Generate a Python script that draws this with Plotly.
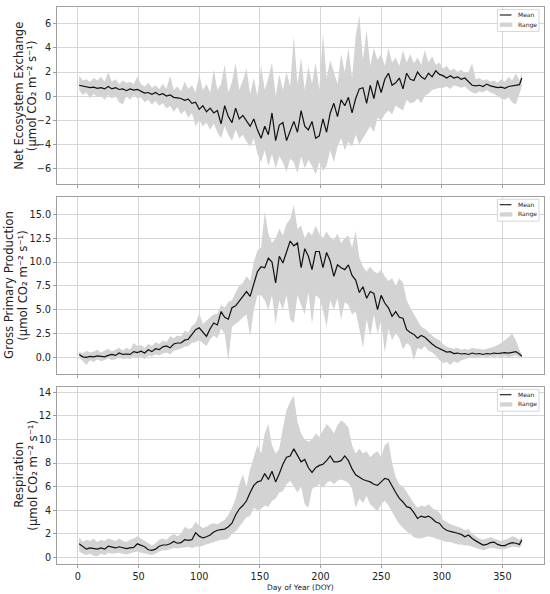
import plotly.graph_objects as go

# Day of year sample positions
DOY = list(range(1, 365, 3)) + [366]

# Net Ecosystem Exchange
NEE_MEAN = [
    0.9, 0.85, 0.8, 0.7, 0.75, 0.65, 0.7, 0.6, 0.8, 0.6,
    0.7, 0.55, 0.6, 0.45, 0.6, 0.5, 0.55, 0.4, 0.25, 0.3,
    0.15, 0.3, 0.1, 0.2, 0.0, 0.1, -0.1, -0.15, -0.2, -0.35,
    -0.25, -0.6, -0.5, -1.1, -0.8, -1.3, -1.0, -1.4, -1.2, -2.3,
    -0.8, -1.7, -2.2, -1.0, -1.9, -1.6, -2.0, -2.5, -1.9, -2.8,
    -3.5, -2.5, -3.2, -1.4, -3.7, -2.4, -2.2, -3.7, -2.9, -2.1,
    -3.0, -1.2, -2.5, -2.8, -2.1, -3.5, -3.3, -1.9, -3.0, -1.4,
    -0.6, -1.7, -0.3, -0.8, -0.1, -1.4, -0.2, 0.6, 0.7, -0.6,
    0.9, -0.2, 1.3, 0.3, 1.4, 1.9, 0.9, 1.1, 1.5, 0.6,
    1.9, 1.4, 1.3, 2.0, 1.6, 1.4, 1.9, 1.6, 2.1, 1.8,
    1.7, 1.5, 1.7, 1.5, 1.6, 1.4, 1.5, 1.2, 0.9, 0.85,
    0.9, 0.8, 1.0, 0.85, 0.8, 0.7, 0.75, 0.65, 0.8, 0.85,
    0.9, 0.95, 1.5,
]
NEE_HIGH = [
    1.7, 1.3, 1.4, 1.2, 1.5, 1.3, 1.6, 1.2, 2.0, 1.2,
    1.4, 1.0, 1.3, 1.1, 1.2, 1.0, 1.6, 1.0, 0.8, 1.1,
    0.7, 0.9, 0.6, 1.0, 0.6, 1.7, 0.5, 0.8, 0.4, 1.2,
    0.6, 0.9, 0.3, 1.8, 0.5, 1.0, 0.3, 2.2, 0.5, 1.0,
    2.6, 0.3, 1.2, 2.8, 0.5, 1.3, 2.3, 0.2, 1.5, 0.0,
    2.5, 0.5, 1.5, 2.8, 0.0, 1.8, 0.5, 2.0, 0.8, 5.0,
    1.0, 3.2, 0.5, 2.5, 1.0, 2.8, 0.5, 5.2, 1.5, 3.0,
    2.0, 1.0, 3.5, 2.0, 4.0, 1.5, 5.0, 6.7, 3.0, 5.5,
    2.5, 4.0, 3.0, 3.5, 2.5, 4.0, 2.8, 3.2, 2.5, 3.8,
    2.8, 3.5, 2.7, 3.2, 2.6, 3.8, 2.8, 3.3, 2.6, 2.8,
    2.3, 2.5, 2.1, 2.3, 2.0, 2.2, 1.9, 2.0, 2.7, 1.4,
    1.5, 1.3, 1.4, 1.2, 1.3, 1.1, 1.4, 1.2, 1.6, 1.3,
    1.9, 1.3, 2.0,
]
NEE_LOW = [
    0.5, 0.1, 0.3, -0.2, 0.2, -0.1, 0.0, -0.3, 0.1, -0.2,
    0.0, -0.5, -0.7, 0.0, -0.3, 0.1, -0.2, -0.1, -0.5, -0.3,
    -0.7, -0.4, -0.8, -0.6, -1.0, -0.8, -1.3, -0.9, -1.5, -1.2,
    -1.8, -1.4, -2.5, -2.0, -2.5, -2.2, -2.8, -2.3, -3.0, -3.5,
    -2.5, -3.2, -3.7, -2.8, -3.5, -3.2, -3.8, -4.2, -3.5, -4.8,
    -5.5, -4.5, -5.8, -4.8, -6.0, -5.0, -5.5, -6.3, -5.2, -5.5,
    -6.4, -5.0, -6.0, -5.3, -5.8, -6.5, -5.5, -6.2, -5.8, -4.5,
    -5.5, -4.2, -3.5, -4.5, -3.8, -4.2, -3.2, -4.0, -3.5, -3.0,
    -2.5, -3.0, -1.8, -2.0, -1.5, -1.2, -1.5, -0.8, -1.0, -1.2,
    -0.3, -0.6, -0.5, -0.2, -0.6, 0.0, 0.2, 0.5, 0.6, 0.7,
    0.7, 0.8, 0.6, 0.9, 0.8, 0.7, 0.8, 0.5, 0.3, 0.2,
    0.4, 0.3, 0.5, 0.3, 0.2, 0.0, -0.2, -0.3, -0.1, -0.5,
    -0.7, 0.2, 0.8,
]

# Gross Primary Production
GPP_MEAN = [
    0.3, 0.05, 0.0, 0.1, 0.05, 0.15, 0.1, 0.05, 0.2, 0.3,
    0.2, 0.45, 0.3, 0.35, 0.3, 0.6, 0.5, 0.65, 0.45, 0.8,
    0.6, 0.9, 0.8, 1.1, 1.2, 1.0, 1.4, 1.5, 1.5, 1.8,
    1.9, 2.4, 2.9, 3.1, 2.7, 2.2, 3.0, 3.6, 3.4, 4.8,
    4.2, 4.0, 5.2, 5.4, 5.9, 6.4, 6.9, 6.4, 7.6, 9.0,
    9.5, 9.4, 10.4, 10.0, 7.8, 10.6, 9.9, 11.0, 12.2, 11.7,
    12.0, 9.4, 11.4, 10.6, 9.2, 11.1, 11.1, 9.4, 11.0, 10.1,
    8.5, 9.7, 9.4, 9.2, 9.7, 8.6, 8.1, 6.8, 7.4, 6.2,
    6.9, 6.7, 5.0, 6.5, 5.7, 5.2, 4.3, 4.8, 4.2, 4.1,
    2.9, 2.6, 2.4, 2.0, 2.3, 2.1, 1.7, 1.4, 1.1, 0.9,
    0.75, 0.55, 0.6, 0.4, 0.45, 0.35, 0.4, 0.3, 0.45, 0.35,
    0.4, 0.3, 0.4, 0.35, 0.45, 0.4, 0.45, 0.5, 0.45, 0.5,
    0.6, 0.35, 0.1,
]
GPP_HIGH = [
    0.6, 0.4, 0.7, 0.5, 0.6, 0.8, 0.5, 0.7, 0.9, 0.6,
    0.8, 1.0, 0.7, 1.0, 0.8, 1.5, 1.2, 1.3, 1.0, 1.4,
    1.2, 1.6, 1.4, 1.8, 1.6, 2.2, 2.0, 2.3, 2.2, 2.8,
    2.6, 3.3, 3.6, 4.6, 3.5, 3.8, 4.2, 4.5, 4.6, 5.5,
    5.2, 5.8, 6.0, 6.8, 7.5, 7.8, 8.5, 8.0, 10.0, 11.2,
    11.5, 15.3, 13.0, 12.0, 12.5, 13.5, 12.8, 14.0, 14.5, 16.0,
    13.5, 13.8, 12.5, 13.2, 12.8, 13.8, 13.0, 12.5, 13.2, 12.6,
    12.3, 13.0, 12.0, 12.5, 12.8, 11.5, 13.3, 10.5, 9.5, 9.0,
    9.5, 9.0, 8.8, 9.2, 8.5, 8.0, 8.3, 7.5, 8.3, 7.8,
    6.0, 5.2, 4.5, 3.8, 3.2, 3.0, 2.6, 2.3, 2.0, 1.8,
    1.4, 1.1, 1.0, 0.9, 1.0, 0.8, 0.9, 0.8, 1.0, 0.9,
    0.9, 0.8, 0.9, 1.0, 1.1, 1.3, 1.5, 1.8, 2.1, 2.5,
    1.8, 0.8, 0.3,
]
GPP_LOW = [
    0.0, -0.4, -0.8, -0.3, -0.5, -0.2, -0.4, -0.3, -0.1, -0.3,
    -0.2, 0.0, -0.2, -0.1, -0.2, 0.1, -0.1, 0.1, -0.2, 0.2,
    0.1, 0.3, 0.2, 0.4, 0.5, 0.3, 0.7, 0.8, 0.9, 1.1,
    1.2, 1.5, 1.6, 1.8, 1.5, 1.2, 1.9, 2.3, 2.0, 3.0,
    2.5, -0.3, 3.2, 3.5, 3.8, 4.2, 4.5, 2.2, 5.0, 6.5,
    6.5, 6.0, 5.0, 6.5, 3.5, 6.0, 5.0, 6.5, 4.0, 3.6,
    6.5, 5.5, 4.5, 6.8, 3.5, 6.5, 6.2, 5.0, 3.2, 6.0,
    5.0, 6.2, 4.0, 5.8, 5.5, 4.5, 4.8, 3.0, 1.0, 4.0,
    2.2, 4.5, 2.5, 3.8, 0.5, 3.0, 1.8, 2.5, 2.0, 0.8,
    1.5, 1.2, -0.3, 1.0, 0.8, 1.2, 0.7, 0.5, 0.2, -0.3,
    -0.6, -0.5, -0.8, -0.4, -0.6, -0.3, -0.2, -0.1, 0.0, -0.1,
    0.0, 0.1, 0.0, 0.1, 0.0, 0.1, 0.0, 0.1, 0.0, 0.1,
    0.2, 0.0, 0.0,
]

# Respiration
RECO_MEAN = [
    1.15, 0.95, 0.7, 0.8, 0.75, 0.7, 0.8, 0.7, 0.95, 0.85,
    0.8, 0.9, 0.8, 0.75, 0.8, 0.85, 1.15, 1.05, 0.9, 0.65,
    0.6, 0.7, 0.95, 1.05, 1.05, 1.15, 1.35, 1.2, 1.25, 1.5,
    1.45, 1.5, 2.1, 1.8, 1.65, 1.75, 1.9, 2.15, 2.3, 2.35,
    2.4, 2.6, 2.9, 3.6, 4.1, 4.4, 4.8, 5.5, 6.1, 6.4,
    6.5, 7.1, 6.6, 7.3, 6.4, 7.1, 7.9, 8.5, 8.6, 9.2,
    8.6, 8.1, 8.3, 7.6, 7.2, 7.6, 7.8, 7.9, 8.2, 8.6,
    8.1, 8.1, 8.2, 8.6, 8.2, 7.5, 7.0, 6.8, 6.6, 6.5,
    6.4, 6.2, 6.1, 6.4, 6.7, 6.6, 6.0, 5.5, 5.0, 4.7,
    4.3, 4.2, 3.8, 3.3, 3.5, 3.4, 3.5, 3.3, 3.0, 2.9,
    2.5, 2.3, 2.2, 2.15, 2.05, 1.95, 1.75, 1.9, 1.6, 1.4,
    1.2, 1.05, 1.1, 1.25, 1.3, 1.1, 1.0, 1.0, 1.15, 1.25,
    1.2, 1.1, 1.5,
]
RECO_HIGH = [
    1.7, 1.3, 1.5, 1.4, 1.6, 1.3, 1.5, 1.4, 1.6, 1.5,
    1.4, 1.6, 1.4, 1.3, 1.5, 1.6, 1.8, 1.6, 1.4, 1.2,
    1.0, 1.2, 1.5, 1.6, 1.5, 1.8, 2.0, 1.8, 2.0, 2.6,
    2.4, 2.5, 3.0, 2.7, 2.5, 2.6, 2.8, 2.9, 2.8, 3.0,
    3.2, 3.6, 4.2, 5.0, 6.2, 7.0, 6.0, 7.5, 8.5, 9.5,
    8.8, 10.5, 11.3, 9.5, 8.8, 9.2, 11.0, 12.5, 13.2, 13.7,
    11.5, 10.5, 10.0, 9.8, 10.0, 10.5, 10.2, 10.8, 11.3, 11.0,
    10.5, 11.2, 11.6, 11.4, 11.0, 9.5, 8.8, 9.2, 8.8, 9.0,
    8.5, 8.8, 9.0, 8.5, 9.5, 9.8, 8.0, 6.8, 6.2, 6.0,
    5.5, 5.0, 4.6, 4.2, 4.4, 4.3, 4.5, 4.2, 4.0, 3.8,
    3.2, 3.0, 2.8, 2.7, 2.6, 2.5, 2.3, 2.4, 2.0, 1.8,
    1.6, 1.5, 1.6, 1.7, 1.6, 1.5, 1.4, 1.5, 1.6, 1.8,
    1.7, 1.5, 1.8,
]
RECO_LOW = [
    0.5, 0.3, 0.2, 0.3, 0.15, 0.1, 0.3, 0.2, 0.4, 0.3,
    0.35, 0.4, 0.3, 0.25, 0.35, 0.4, 0.5, 0.4, 0.35, 0.25,
    0.2, 0.3, 0.5, 0.6, 0.6, 0.7, 0.8, 0.75, 0.8, 0.8,
    0.9, 0.8, 0.9, 0.9, 1.0, 1.1, 1.2, 1.3, 1.4, 1.5,
    1.5, 1.6, 2.0, 2.2, 2.6, 3.0, 3.4, 3.5, 4.2, 4.0,
    4.1, 4.4, 4.3, 4.8, 5.0, 5.5, 5.6, 6.2, 6.5, 6.0,
    5.5, 6.0, 4.5, 4.2, 5.8, 6.0, 6.2, 5.9, 6.3, 6.5,
    6.2, 6.5, 6.6, 6.5, 6.3, 5.8, 4.2, 5.0, 4.6, 5.2,
    4.5, 4.2, 3.9, 4.5, 4.8, 4.4, 3.8, 3.3, 2.8, 2.5,
    2.2, 2.0, 1.7, 1.6, 1.6, 1.7, 1.8, 1.7, 1.6, 1.5,
    1.4, 1.3, 1.3, 1.2, 1.1, 1.1, 1.0, 1.0, 0.9, 0.8,
    0.7, 0.6, 0.7, 0.8, 0.8, 0.7, 0.7, 0.7, 0.8, 0.9,
    0.9, 0.8, 1.1,
]

TITLES = [
    "Net Ecosystem Exchange",
    "Gross Primary Production",
    "Respiration",
]
UNIT = "(\u03bcmol CO\u2082 m\u207b\u00b2 s\u207b\u00b9)"
LEGEND_LABELS = ["Mean", "Range"]
X_TITLE = "Day of Year (DOY)"
X_TICKS = [0, 50, 100, 150, 200, 250, 300, 350]
Y_TICKS = [
    [-6, -4, -2, 0, 2, 4, 6],
    [0, 2.5, 5, 7.5, 10, 12.5, 15],
    [0, 2, 4, 6, 8, 10, 12, 14],
]
Y_RANGES = [[-7.3, 7.4], [-1.75, 16.85], [-0.56, 14.47]]
DOMAINS = [[0.6822, 1.0], [0.3411, 0.6594], [0.0, 0.3183]]
TITLE_X = [(-0.0795, -0.052), (-0.0975, -0.0688), (-0.077, -0.0487)]

series = [
    (NEE_MEAN, NEE_LOW, NEE_HIGH),
    (GPP_MEAN, GPP_LOW, GPP_HIGH),
    (RECO_MEAN, RECO_LOW, RECO_HIGH),
]
for m, lo, hi in series:
    assert len(m) == len(DOY) and len(lo) == len(DOY) and len(hi) == len(DOY)

FONT = "DejaVu Sans"
TXT = "#222222"
BAND = "#d3d3d3"
fig = go.Figure()

for i, (m, lo, hi) in enumerate(series):
    n = "" if i == 0 else str(i + 1)
    xa, ya = "x" + n, "y" + n
    fig.add_trace(go.Scatter(x=DOY, y=lo, xaxis=xa, yaxis=ya, mode="lines",
                             line=dict(width=0, color=BAND), showlegend=False,
                             hoverinfo="skip"))
    fig.add_trace(go.Scatter(x=DOY, y=hi, xaxis=xa, yaxis=ya, mode="lines",
                             line=dict(width=0, color=BAND), fill="tonexty",
                             fillcolor=BAND, name="Range", showlegend=False))
    fig.add_trace(go.Scatter(x=DOY, y=m, xaxis=xa, yaxis=ya, mode="lines",
                             line=dict(width=1.2, color="#111111"), name="Mean",
                             showlegend=False))

axis_common = dict(showline=True, mirror=True, linecolor="#a0a0a0", linewidth=1,
                   showgrid=True, gridcolor="#d6d6d6", gridwidth=0.8, zeroline=False,
                   ticks="outside", ticklen=3, tickcolor="#a0a0a0", tickwidth=0.8,
                   tickfont=dict(family=FONT, size=9.7, color=TXT))

layout = dict(
    width=550, height=594,
    margin=dict(l=57, r=6, t=7, b=30, autoexpand=False),
    paper_bgcolor="white", plot_bgcolor="white",
    font=dict(family=FONT, color=TXT),
    showlegend=False,
    annotations=[], shapes=[],
)
for i in range(3):
    n = "" if i == 0 else str(i + 1)
    layout["xaxis" + n] = dict(axis_common, domain=[0, 1], anchor="y" + n,
                               range=[-17.25, 384.25], tickvals=X_TICKS,
                               showticklabels=(i == 2))
    yax = dict(axis_common, domain=DOMAINS[i], anchor="x" + n,
               range=Y_RANGES[i], tickvals=Y_TICKS[i])
    if i == 1:
        yax["tickformat"] = ".1f"
    layout["yaxis" + n] = yax

    xd, yd = "x" + n + " domain", "y" + n + " domain"
    # legend box (drawn in axis-domain coordinates)
    layout["shapes"].append(dict(type="rect", xref=xd, yref=yd, x0=0.9043, x1=0.9897,
                                 y0=0.862, y1=0.9853, line=dict(color="#cccccc", width=0.8),
                                 fillcolor="white", layer="above"))
    layout["shapes"].append(dict(type="line", xref=xd, yref=yd, x0=0.9092, x1=0.9332,
                                 y0=0.9549, y1=0.9549, line=dict(color="#111111", width=1.1),
                                 layer="above"))
    layout["shapes"].append(dict(type="rect", xref=xd, yref=yd, x0=0.9092, x1=0.9350,
                                 y0=0.888, y1=0.912, line=dict(width=0),
                                 fillcolor=BAND, layer="above"))
    layout["annotations"].append(dict(text=LEGEND_LABELS[0], xref=xd, yref=yd,
                                      x=0.942, y=0.9549, xanchor="left", yanchor="middle",
                                      showarrow=False, font=dict(family=FONT, size=6, color=TXT)))
    layout["annotations"].append(dict(text=LEGEND_LABELS[1], xref=xd, yref=yd,
                                      x=0.942, y=0.900, xanchor="left", yanchor="middle",
                                      showarrow=False, font=dict(family=FONT, size=6, color=TXT)))

    layout["annotations"].append(dict(
        text=TITLES[i], xref="paper", yref=yd, x=TITLE_X[i][0], y=0.5,
        xanchor="center", yanchor="middle", textangle=-90, showarrow=False,
        font=dict(family=FONT, size=11.7, color=TXT)))
    layout["annotations"].append(dict(
        text=UNIT, xref="paper", yref=yd, x=TITLE_X[i][1], y=0.5,
        xanchor="center", yanchor="middle", textangle=-90, showarrow=False,
        font=dict(family=FONT, size=11.7, color=TXT)))

layout["annotations"].append(dict(
    text=X_TITLE, xref="paper", yref="paper", x=0.5, y=-0.043,
    xanchor="center", yanchor="middle", showarrow=False,
    font=dict(family=FONT, size=7.5, color=TXT)))

fig.update_layout(**layout)
fig.write_html("out.html", config={"displayModeBar": False},
               post_script="document.body.style.margin='0px';document.body.style.padding='0px';")
